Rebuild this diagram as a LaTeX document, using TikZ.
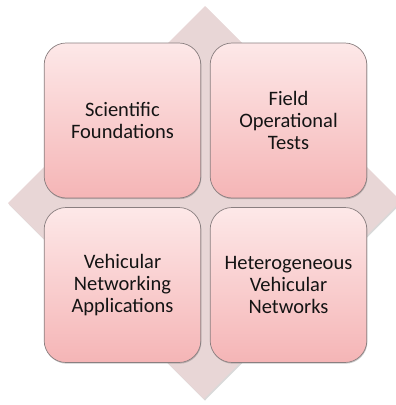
\documentclass[tikz,border=0pt]{standalone}
\usepackage{fontspec}
\setmainfont{Carlito}
\usetikzlibrary{shadows}
\definecolor{diafill}{HTML}{E8D6D6}
\definecolor{boxtop}{HTML}{FDE8E8}
\definecolor{boxbot}{HTML}{F5B5B6}
\definecolor{boxline}{HTML}{8A7F80}
\definecolor{txt}{HTML}{141414}
\tikzset{
  quad/.style={draw=boxline, line width=0.7pt, rounded corners=22pt,
    top color=boxtop, bottom color=boxbot, minimum width=155pt, minimum height=155pt,
    text width=150pt, align=center, font=\fontsize{20.5}{21.7}\selectfont, text=txt,
    drop shadow={shadow xshift=0.6pt, shadow yshift=-1.2pt, opacity=0.35, fill=black!60}},
  diam/.style={fill=diafill, drop shadow={shadow xshift=1pt, shadow yshift=-1.5pt, opacity=0.3}}
}
\begin{document}
\begin{tikzpicture}[x=1pt,y=-1pt]
\useasboundingbox (0,0) rectangle (396,405);
\fill[diam] (205,6) -- (401,201) -- (204,399) -- (8,203) -- cycle;
\node[quad] (sf) at (122.5,120.5) {Scientific\\Foundations};
\node[quad] (fot) at (288.5,120.5) {Field\\Operational\\Tests};
\node[quad] (vna) at (122.5,285) {Vehicular\\Networking\\Applications};
\node[quad] (hvn) at (288.5,285) {Heterogeneous\\Vehicular\\Networks};
\end{tikzpicture}
\end{document}
